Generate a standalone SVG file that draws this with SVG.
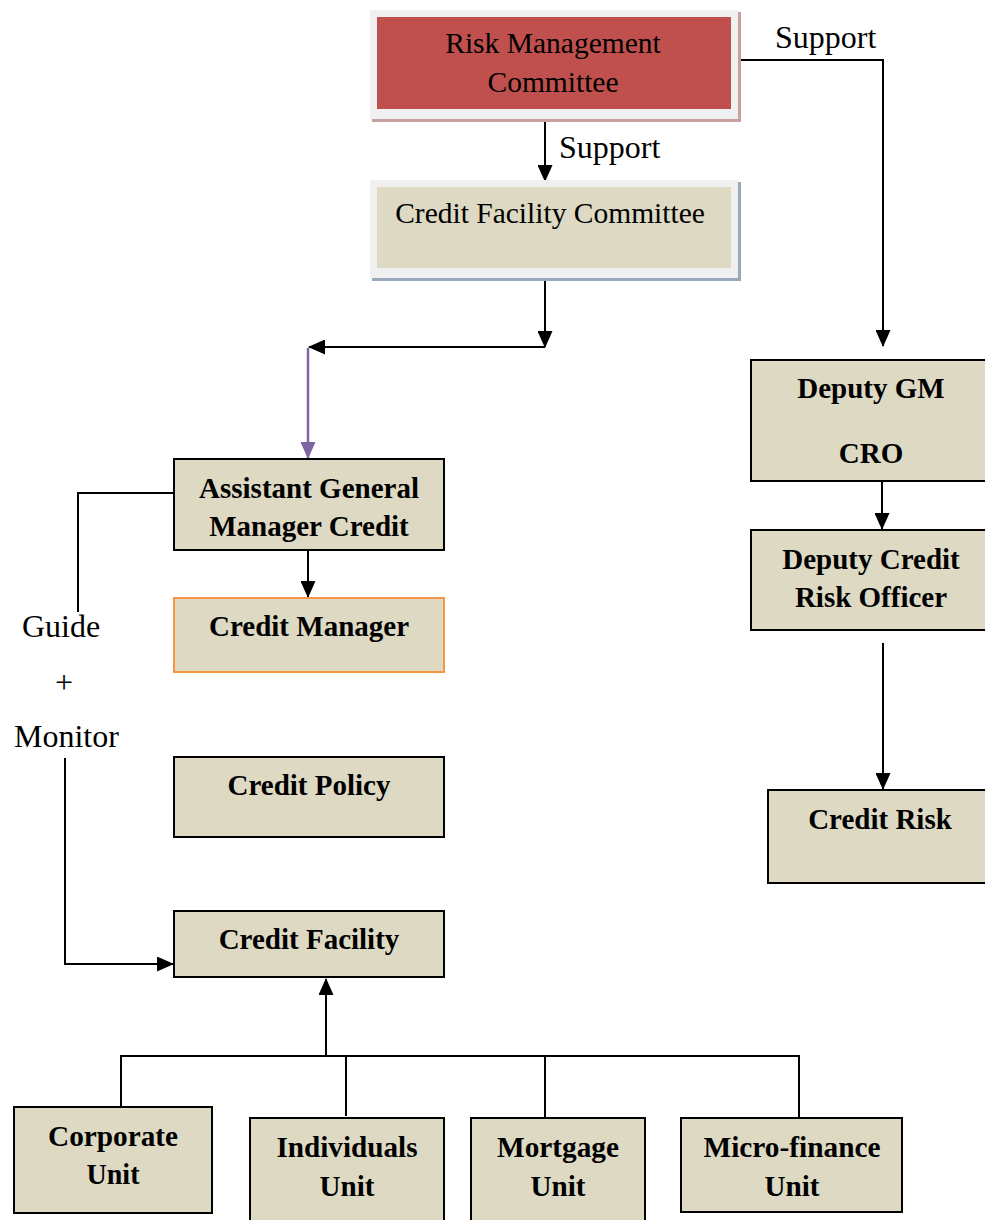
<svg xmlns="http://www.w3.org/2000/svg" width="985" height="1220" viewBox="0 0 985 1220">
<style>
.box{fill:#ddd9c3;stroke:#000;stroke-width:2}
.t{font-family:"Liberation Serif","Times New Roman",serif;fill:#000;text-anchor:middle}
.b{font-weight:bold;font-size:29px}
.r{font-size:29.5px}
.lab{font-family:"Liberation Serif","Times New Roman",serif;font-size:32px;fill:#000}
.ln{fill:none;stroke:#000;stroke-width:2}
.u{font-size:30px}
</style>
<defs>
<marker id="big" markerWidth="17" markerHeight="15" refX="16" refY="7.5" orient="auto" markerUnits="userSpaceOnUse" viewBox="0 0 17 15"><path d="M0,0 L17,7.5 L0,15 z" fill="#000"/></marker>
<marker id="bigp" markerWidth="17" markerHeight="15" refX="16" refY="7.5" orient="auto" markerUnits="userSpaceOnUse" viewBox="0 0 17 15"><path d="M0,0 L17,7.5 L0,15 z" fill="#8064a2"/></marker>
</defs>
<g id="connectors">
<polyline class="ln" points="735,60 883,60 883,346" marker-end="url(#big)"/>
<line class="ln" x1="545" y1="113" x2="545" y2="181" marker-end="url(#big)"/>
<line class="ln" x1="545" y1="272" x2="545" y2="347" marker-end="url(#big)"/>
<line class="ln" x1="545" y1="347" x2="309" y2="347" marker-end="url(#big)"/>
<line x1="308" y1="348" x2="308" y2="458" stroke="#8064a2" stroke-width="2.5" marker-end="url(#bigp)"/>
<line class="ln" x1="308" y1="551" x2="308" y2="597" marker-end="url(#big)"/>
<polyline class="ln" points="174,493 78,493 78,612"/>
<polyline class="ln" points="65,758 65,964 173,964" marker-end="url(#big)"/>
<line class="ln" x1="326" y1="1056" x2="326" y2="979" marker-end="url(#big)"/>
<polyline class="ln" points="121,1106 121,1056 799,1056 799,1118"/>
<line class="ln" x1="346" y1="1056" x2="346" y2="1116"/>
<line class="ln" x1="545" y1="1056" x2="545" y2="1118"/>
<line class="ln" x1="882" y1="482" x2="882" y2="529" marker-end="url(#big)"/>
<line class="ln" x1="883" y1="643" x2="883" y2="789" marker-end="url(#big)"/>
</g>
<g id="labels">
<text class="lab" x="775" y="48">Support</text>
<text class="lab" x="559" y="158">Support</text>
<text class="lab" x="22" y="637">Guide</text>
<text class="lab" x="64" y="693" text-anchor="middle">+</text>
<text class="lab" x="14" y="747">Monitor</text>
</g>
<g id="rmc">
<rect x="372" y="12" width="369" height="110" fill="#c9a0a0"/>
<rect x="370" y="10" width="368" height="109" fill="#f0f0f0"/>
<rect x="377" y="17" width="354" height="92" fill="#c0504d"/>
<text class="t r" x="553" y="53">Risk Management</text>
<text class="t r" x="553" y="92">Committee</text>
</g>
<g id="cfc">
<rect x="372" y="182" width="369" height="99" fill="#9aa8bc"/>
<rect x="370" y="180" width="368" height="98" fill="#f0f0f0"/>
<rect x="377" y="187" width="354" height="81" fill="#ddd9c3"/>
<text class="t r" x="550" y="223">Credit Facility Committee</text>
</g>
<g id="agm">
<rect class="box" x="174" y="459" width="270" height="91"/>
<text class="t b" x="309" y="498">Assistant General</text>
<text class="t b" x="309" y="536">Manager Credit</text>
</g>
<g id="cm">
<rect class="box" x="174" y="598" width="270" height="74" style="stroke:#f79646"/>
<text class="t b" x="309" y="636">Credit Manager</text>
</g>
<g id="cp">
<rect class="box" x="174" y="757" width="270" height="80"/>
<text class="t b" x="309" y="795">Credit Policy</text>
</g>
<g id="cf">
<rect class="box" x="174" y="911" width="270" height="66"/>
<text class="t b" x="309" y="949">Credit Facility</text>
</g>
<g id="dgm">
<rect class="box" x="751" y="360" width="240" height="121"/>
<text class="t b" x="871" y="398">Deputy GM</text>
<text class="t b" x="871" y="463">CRO</text>
</g>
<g id="dcro">
<rect class="box" x="751" y="530" width="240" height="100"/>
<text class="t b" x="871" y="569">Deputy Credit</text>
<text class="t b" x="871" y="607">Risk Officer</text>
</g>
<g id="cr">
<rect class="box" x="768" y="790" width="225" height="93"/>
<text class="t b" x="880" y="829">Credit Risk</text>
</g>
<g id="corp">
<rect class="box" x="14" y="1107" width="198" height="106"/>
<text class="t b u" x="113" y="1146" textLength="130" lengthAdjust="spacingAndGlyphs">Corporate</text>
<text class="t b u" x="113" y="1184" textLength="53" lengthAdjust="spacingAndGlyphs">Unit</text>
</g>
<g id="ind">
<rect class="box" x="250" y="1118" width="194" height="110"/>
<text class="t b u" x="347" y="1157" textLength="141" lengthAdjust="spacingAndGlyphs">Individuals</text>
<text class="t b u" x="347" y="1196" textLength="55" lengthAdjust="spacingAndGlyphs">Unit</text>
</g>
<g id="mort">
<rect class="box" x="471" y="1118" width="174" height="110"/>
<text class="t b u" x="558" y="1157" textLength="122" lengthAdjust="spacingAndGlyphs">Mortgage</text>
<text class="t b u" x="558" y="1196" textLength="55" lengthAdjust="spacingAndGlyphs">Unit</text>
</g>
<g id="micro">
<rect class="box" x="681" y="1118" width="221" height="94"/>
<text class="t b u" x="792" y="1157" textLength="177" lengthAdjust="spacingAndGlyphs">Micro-finance</text>
<text class="t b u" x="792" y="1196" textLength="55" lengthAdjust="spacingAndGlyphs">Unit</text>
</g>
</svg>
